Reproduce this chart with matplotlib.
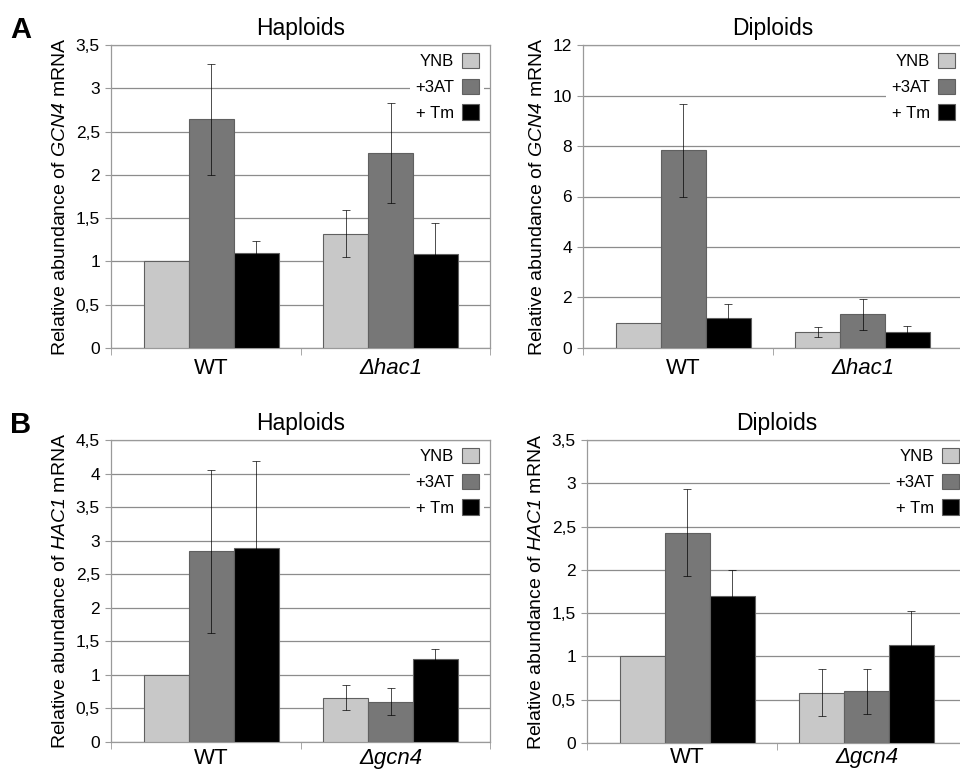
import numpy as np
import matplotlib
matplotlib.use("Agg")
import matplotlib.pyplot as plt
from matplotlib.patches import Patch
from matplotlib.ticker import FuncFormatter

plt.rcParams['font.family'] = ['Liberation Sans', 'DejaVu Sans']
plt.rcParams['mathtext.fontset'] = 'custom'
plt.rcParams['mathtext.rm'] = 'Liberation Sans'
plt.rcParams['mathtext.it'] = 'Liberation Sans:italic'
plt.rcParams['mathtext.sf'] = 'Liberation Sans:italic'

# Data
conditions = ['YNB', '+3AT', '+ Tm']
colors = ['#c8c8c8', '#777777', '#000000']

gcn4_hap_cats = ['WT', 'Δhac1']
gcn4_hap_vals = [[1.0, 1.32], [2.64, 2.25], [1.10, 1.09]]
gcn4_hap_err = [[0.0, 0.27], [0.64, 0.58], [0.14, 0.35]]

gcn4_dip_cats = ['WT', 'Δhac1']
gcn4_dip_vals = [[1.0, 0.62], [7.84, 1.33], [1.19, 0.62]]
gcn4_dip_err = [[0.0, 0.20], [1.84, 0.60], [0.55, 0.26]]

hac1_hap_cats = ['WT', 'Δgcn4']
hac1_hap_vals = [[1.0, 0.66], [2.84, 0.60], [2.89, 1.23]]
hac1_hap_err = [[0.0, 0.19], [1.21, 0.20], [1.30, 0.15]]

hac1_dip_cats = ['WT', 'Δgcn4']
hac1_dip_vals = [[1.0, 0.58], [2.43, 0.60], [1.70, 1.13]]
hac1_dip_err = [[0.0, 0.27], [0.50, 0.26], [0.30, 0.40]]


def comma_fmt(v, pos):
    return ('%g' % v).replace('.', ',')


def draw_panel(ax, cats, vals, errs, ymax, ystep, title, ylabel, leg_x, xpad=7):
    x = np.arange(len(cats))
    w = 0.25
    for i in range(3):
        xi = x + (i - 1) * w
        ax.bar(xi, vals[i], w, color=colors[i], edgecolor='#606060',
               linewidth=0.8, zorder=3, label=conditions[i])
        # no error bar where the error is zero
        e = np.array(errs[i])
        m = e > 0
        ax.errorbar(xi[m], np.array(vals[i])[m], yerr=e[m], fmt='none',
                    ecolor='black', alpha=0.7, elinewidth=0.7, capsize=3,
                    capthick=0.7, zorder=4)
    ax.set_xlim(-0.56, 1.555)
    ax.set_ylim(0, ymax)
    ax.set_yticks(np.arange(0, ymax + ystep / 2, ystep))
    ax.yaxis.set_major_formatter(FuncFormatter(comma_fmt))
    ax.grid(axis='y', color='#8c8c8c', linewidth=0.9, zorder=0)
    ax.set_axisbelow(True)
    for s in ax.spines.values():
        s.set_color('#9a9a9a')
        s.set_linewidth(0.9)
    ax.set_xticks(x)
    ax.set_xticklabels(cats, fontsize=16)
    for lab in ax.get_xticklabels()[1:]:
        lab.set_fontstyle('italic')
    ax.set_xticks([-0.56, 0.5, 1.555], minor=True)
    ax.tick_params(axis='x', which='major', length=0, pad=xpad)
    ax.tick_params(axis='x', which='minor', length=5, color='#9a9a9a')
    ax.tick_params(axis='y', length=4, color='#9a9a9a', labelsize=12.5, pad=4)
    ax.set_title(title, fontsize=16.5, pad=7)
    ax.set_ylabel(ylabel, fontsize=14, labelpad=5)
    handles = [Patch(facecolor=colors[i], edgecolor='#606060', linewidth=0.8) for i in range(3)]
    leg = ax.legend(handles, conditions, loc='upper right', bbox_to_anchor=(leg_x, 0.99),
                    fontsize=12, markerfirst=False, frameon=True, fancybox=False,
                    handlelength=1.05, handleheight=1.05, handletextpad=0.45,
                    labelspacing=0.55, borderpad=0.3, borderaxespad=0.0)
    leg.get_frame().set_facecolor('white')
    leg.get_frame().set_edgecolor('none')
    leg.get_frame().set_alpha(1.0)
    leg.set_zorder(5)


fig = plt.figure(figsize=(9.6, 7.71), dpi=100)
ax1 = fig.add_axes([111 / 960, 1 - 348 / 771, 379 / 960, 303 / 771])
ax2 = fig.add_axes([583 / 960, 1 - 348 / 771, 379 / 960, 303 / 771])
ax3 = fig.add_axes([111 / 960, 1 - 742 / 771, 379 / 960, 302 / 771])
ax4 = fig.add_axes([587 / 960, 1 - 743 / 771, 379 / 960, 303 / 771])

draw_panel(ax1, gcn4_hap_cats, gcn4_hap_vals, gcn4_hap_err, 3.5, 0.5, 'Haploids',
           r'Relative abundance of $\mathsf{GCN4}$ mRNA', 0.985)
draw_panel(ax2, gcn4_dip_cats, gcn4_dip_vals, gcn4_dip_err, 12, 2, 'Diploids',
           r'Relative abundance of $\mathsf{GCN4}$ mRNA', 0.995)
draw_panel(ax3, hac1_hap_cats, hac1_hap_vals, hac1_hap_err, 4.5, 0.5, 'Haploids',
           r'Relative abundance of $\mathsf{HAC1}$ mRNA', 0.985, xpad=4)
draw_panel(ax4, hac1_dip_cats, hac1_dip_vals, hac1_dip_err, 3.5, 0.5, 'Diploids',
           r'Relative abundance of $\mathsf{HAC1}$ mRNA', 0.995, xpad=3)

fig.text(10 / 960, 1 - 38 / 771, 'A', fontsize=21, fontweight='bold')
fig.text(10 / 960, 1 - 433 / 771, 'B', fontsize=21, fontweight='bold')

fig.savefig('out.png', dpi=100, facecolor='white')
